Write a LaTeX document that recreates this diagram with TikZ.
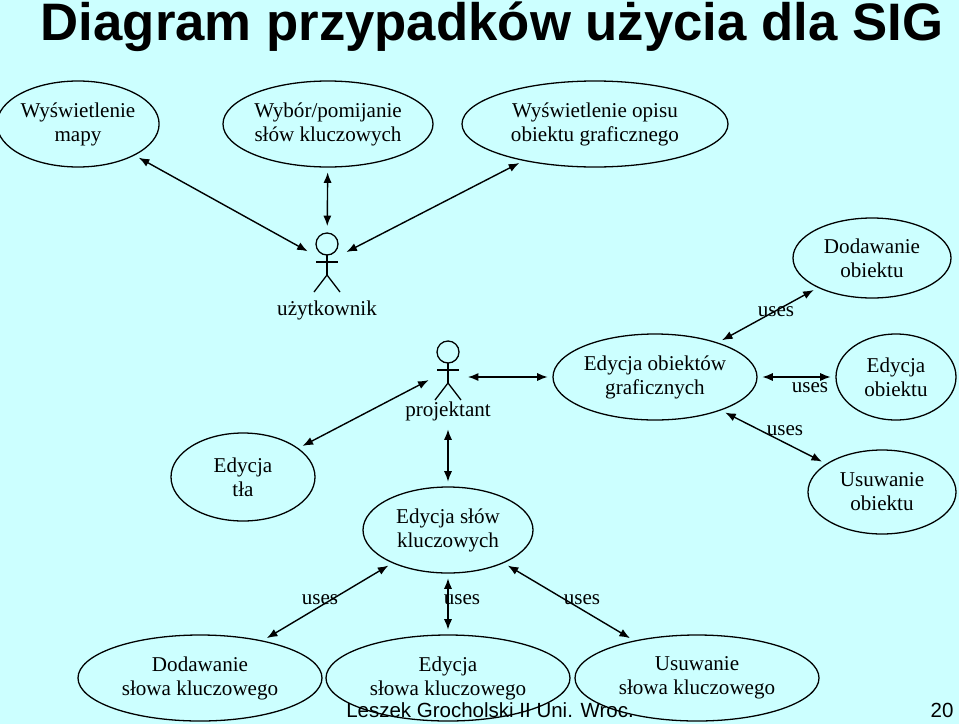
\documentclass[tikz,border=0pt]{standalone}
\usepackage{fontspec}
\setmainfont{Liberation Serif}
\setsansfont{Liberation Sans}
\usetikzlibrary{shapes.geometric,calc}
\definecolor{bgcyan}{RGB}{204,255,255}
\tikzset{
  usecase/.style 2 args={ellipse, draw, line width=1.1pt, minimum width=#1*0.06cm, minimum height=#2*0.06cm,
    align=center, inner sep=0pt, font=\fontsize{18}{20.5}\selectfont},
  actor/.style={minimum width=30*0.03cm, minimum height=62*0.03cm, inner sep=0pt},
  link/.style={<->, >={Latex[length=9pt,width=7pt]}, line width=1.2pt, shorten >=4pt, shorten <=4pt},
  lbl/.style={font=\fontsize{18}{20.5}\selectfont}
}
\usetikzlibrary{arrows.meta}
\newcommand{\stickman}[1]{%
  \draw[line width=1.1pt] ($(#1)+(0,-18)$) circle (11*0.03cm);
  \draw[line width=1.1pt] ($(#1)+(0,-7)$) -- ($(#1)+(0,13)$);
  \draw[line width=1.1pt] ($(#1)+(-11,0)$) -- ($(#1)+(11,0)$);
  \draw[line width=1.1pt] ($(#1)+(-13,30)$) -- ($(#1)+(0,13)$) -- ($(#1)+(13,30)$);
}
\begin{document}
\begin{tikzpicture}[x=0.03cm,y=-0.03cm]
    % background and bounding box
    \fill[bgcyan] (0,0) rectangle (959,724);
    \useasboundingbox (0,0) rectangle (959,724);

    % title
    \node[font=\sffamily\bfseries\fontsize{45}{50}\selectfont] (title) at (492,27) {Diagram przypadków użycia dla SIG};

    % use cases
    \node[usecase={76}{43}] (mapa) at (78,124) {Wyświetlenie\\mapy};
    \node[usecase={105}{43}] (wybor) at (328,124) {Wybór/pomijanie\\słów kluczowych};
    \node[usecase={133}{43}] (opis) at (595,124) {Wyświetlenie opisu\\obiektu graficznego};
    \node[usecase={79}{40}] (dodob) at (872,258) {Dodawanie\\obiektu};
    \node[usecase={102}{43}] (edgraf) at (655,377) {Edycja obiektów\\graficznych};
    \node[usecase={60}{43}] (edob) at (896,377) {Edycja\\obiektu};
    \node[usecase={74}{42}] (usob) at (882,492) {Usuwanie\\obiektu};
    \node[usecase={72}{44}] (edtla) at (243,477) {Edycja\\tła};
    \node[usecase={85}{43}] (edslow) at (448,530) {Edycja słów\\kluczowych};
    \node[usecase={122}{43}] (dodsl) at (200,678) {Dodawanie\\słowa kluczowego};
    \node[usecase={122}{43}] (edsl) at (448,678) {Edycja\\słowa kluczowego};
    \node[usecase={122}{43}] (ussl) at (697,678) {Usuwanie\\słowa kluczowego};

    % actors
    \node[actor] (user) at (327,262) {};
    \stickman{user}
    \node[lbl] (userlbl) at (327,310) {użytkownik};
    \node[actor] (proj) at (448,370) {};
    \stickman{proj}
    \node[lbl] (projlbl) at (448,411) {projektant};

    % connectors
    \draw[link] (mapa) -- (user);
    \draw[link] (wybor) -- (user);
    \draw[link] (opis) -- (user);
    \draw[link] (proj.east |- edgraf.west) -- (edgraf.west);
    \draw[link] (proj) -- (edtla);
    \draw[link] (projlbl) -- (edslow);
    \draw[link] (dodob) -- (edgraf);
    \draw[link] (edgraf) -- (edob);
    \draw[link] (edgraf) -- (usob);
    \draw[link] (edslow) -- (dodsl);
    \draw[link] (edslow) -- (edsl);
    \draw[link] (edslow) -- (ussl);

    % uses labels
    \node[lbl] (u1) at (776,312) {uses};
    \node[lbl] (u2) at (810,388) {uses};
    \node[lbl] (u3) at (785,431) {uses};
    \node[lbl] (u4) at (320,600) {uses};
    \node[lbl] (u5) at (462,600) {uses};
    \node[lbl] (u6) at (582,600) {uses};

    % footer
    \node[font=\sffamily\fontsize{17.5}{20}\selectfont] (foot) at (490,710) {Leszek Grocholski II Uni. Wroc.};
    \node[font=\sffamily\fontsize{17.5}{20}\selectfont] (page) at (942,710) {20};
\end{tikzpicture}
\end{document}
